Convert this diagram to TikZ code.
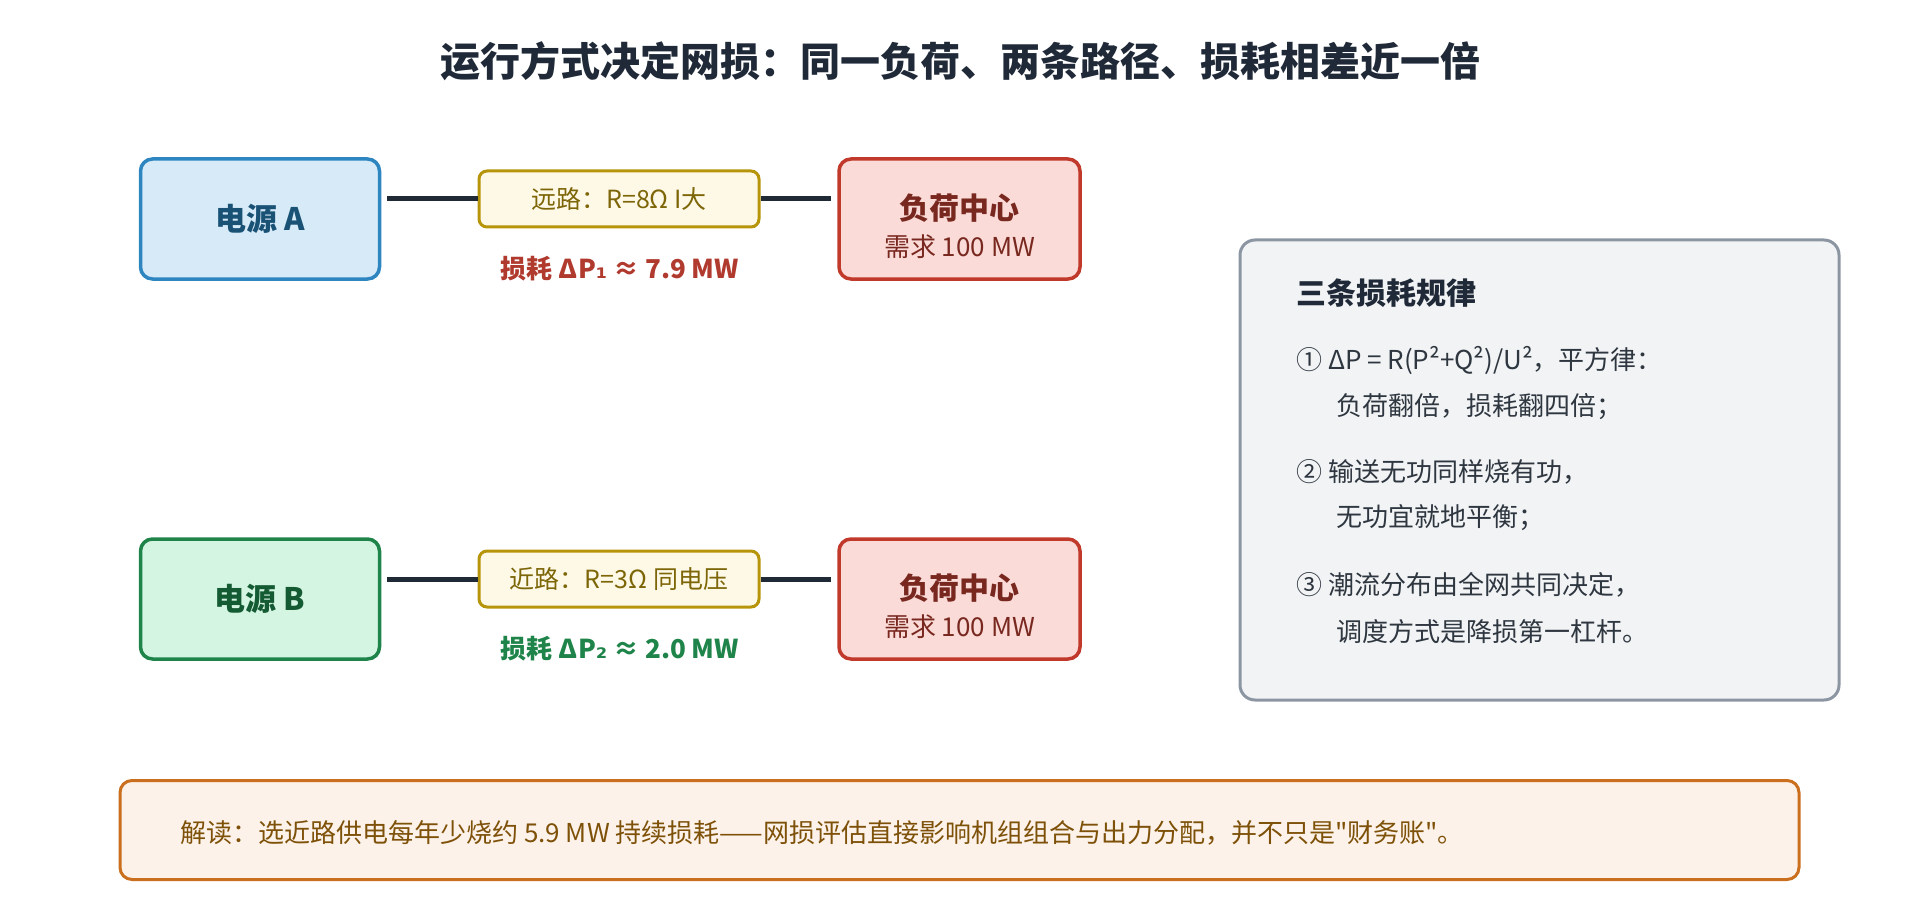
\documentclass[tikz,border=0pt]{standalone}
\usepackage{fontspec}
\setmainfont{Noto Sans CJK SC}
\newfontfamily\subfont{DejaVu Sans}
\newfontfamily\quotefont{Noto Sans CJK SC}
\usetikzlibrary{positioning}

\definecolor{srcAfill}{HTML}{D6EAF8}
\definecolor{srcAline}{HTML}{2E86C1}
\definecolor{srcAtext}{HTML}{1A5276}
\definecolor{srcBfill}{HTML}{D5F5E3}
\definecolor{srcBline}{HTML}{1E8449}
\definecolor{srcBtext}{HTML}{145A32}
\definecolor{roadfill}{HTML}{FEF9E7}
\definecolor{roadline}{HTML}{B7950B}
\definecolor{roadtext}{HTML}{7D6608}
\definecolor{loadfill}{HTML}{FADBD8}
\definecolor{loadline}{HTML}{C0392B}
\definecolor{loadtext}{HTML}{78281F}
\definecolor{lossA}{HTML}{B03A2E}
\definecolor{lossB}{HTML}{1E8449}
\definecolor{wirecol}{HTML}{1F2A36}
\definecolor{rulefill}{HTML}{F2F3F4}
\definecolor{ruleline}{HTML}{8C96A3}
\definecolor{ruletext}{HTML}{2E3640}
\definecolor{titletext}{HTML}{1F2937}
\definecolor{notefill}{HTML}{FDF2E9}
\definecolor{noteline}{HTML}{CA6F1E}
\definecolor{notetext}{HTML}{7E5109}

\newcommand{\fsz}[1]{\fontsize{#1}{#1}\selectfont}
\newcommand{\sub}[1]{{\subfont #1}}

\begin{document}
\begin{tikzpicture}[x=1pt, y=-1pt,
    box/.style={rectangle, rounded corners=12pt, line width=3.5pt, inner sep=0pt, align=center},
    srcbox/.style={box, minimum width=239pt, minimum height=120pt, font=\fsz{31pt}\bfseries},
    roadbox/.style={box, rounded corners=8pt, line width=3pt, minimum width=280pt, minimum height=56pt,
        fill=roadfill, draw=roadline, text=roadtext, font=\fsz{25pt}},
    loadbox/.style={box, minimum width=241pt, minimum height=120pt, fill=loadfill, draw=loadline},
    loadtitle/.style={text=loadtext, font=\fsz{30pt}\bfseries},
    loadsub/.style={text=loadtext, font=\fsz{26pt}},
    losslabel/.style={font=\fsz{26pt}\bfseries},
    wire/.style={line width=5pt, draw=wirecol},
    ruleitem/.style={anchor=west, inner sep=0pt, text=ruletext, font=\fsz{26pt}}]

    \useasboundingbox (0,0) rectangle (1920,920);

    % Title
    \node[text=titletext, font=\fsz{40pt}\bfseries] (title) at (960,61)
        {运行方式决定网损：同一负荷、两条路径、损耗相差近一倍};

    % Path A - far road
    \node[srcbox, fill=srcAfill, draw=srcAline, text=srcAtext] (srcA) at (260,219) {电源 A};
    \node[roadbox] (roadA) at (619,199) {远路：R=8Ω I大};
    \node[loadbox] (loadA) at (959.5,219) {};
    \node[loadtitle] (loadAt) at (959.5,208) {负荷中心};
    \node[loadsub] (loadAs) at (959.5,247) {需求 100 MW};
    \node[losslabel, text=lossA] (lossA) at (620,269) {损耗 ΔP\sub{₁} ≈ 7.9 MW};

    % Path B - near road
    \node[srcbox, fill=srcBfill, draw=srcBline, text=srcBtext] (srcB) at (260,599) {电源 B};
    \node[roadbox] (roadB) at (619,579) {近路：R=3Ω 同电压};
    \node[loadbox] (loadB) at (959.5,599) {};
    \node[loadtitle] (loadBt) at (959.5,588) {负荷中心};
    \node[loadsub] (loadBs) at (959.5,627) {需求 100 MW};
    \node[losslabel, text=lossB] (lossB) at (620,649) {损耗 ΔP\sub{₂} ≈ 2.0 MW};

    % Lines
    \draw[wire, shorten <=6pt] (srcA.east |- roadA.west) -- (roadA.west);
    \draw[wire, shorten >=6pt] (roadA.east) -- (loadA.west |- roadA.east);
    \draw[wire, shorten <=6pt] (srcB.east |- roadB.west) -- (roadB.west);
    \draw[wire, shorten >=6pt] (roadB.east) -- (loadB.west |- roadB.east);

    % Rules panel
    \node[box, rounded corners=15pt, line width=3pt, minimum width=599pt, minimum height=460pt,
        fill=rulefill, draw=ruleline] (rules) at (1539.5,470) {};
    \node[anchor=west, inner sep=0pt, text=titletext, font=\fsz{30pt}\bfseries] (rulesT) at (1296,293) {三条损耗规律};
    \node[ruleitem] (rule1) at (1296,360) {① ΔP = R(P²+Q²)/U²，平方律：};
    \node[ruleitem] (rule1b) at (1336,407) {负荷翻倍，损耗翻四倍；};
    \node[ruleitem] (rule2) at (1296,472) {② 输送无功同样烧有功，};
    \node[ruleitem] (rule2b) at (1336,518) {无功宜就地平衡；};
    \node[ruleitem] (rule3) at (1296,585) {③ 潮流分布由全网共同决定，};
    \node[ruleitem] (rule3b) at (1336,632) {调度方式是降损第一杠杆。};

    % Note
    \node[box, line width=3pt, minimum width=1679pt, minimum height=99pt, fill=notefill, draw=noteline] (note) at (959.5,830) {};
    \node[anchor=west, inner sep=0pt, text=notetext, font=\fsz{26pt}] (noteT) at (180,833)
        {解读：选近路供电每年少烧约 5.9 MW 持续损耗——网损评估直接影响机组组合与出力分配，并不只是{\quotefont"}财务账{\quotefont"}。};
\end{tikzpicture}
\end{document}
